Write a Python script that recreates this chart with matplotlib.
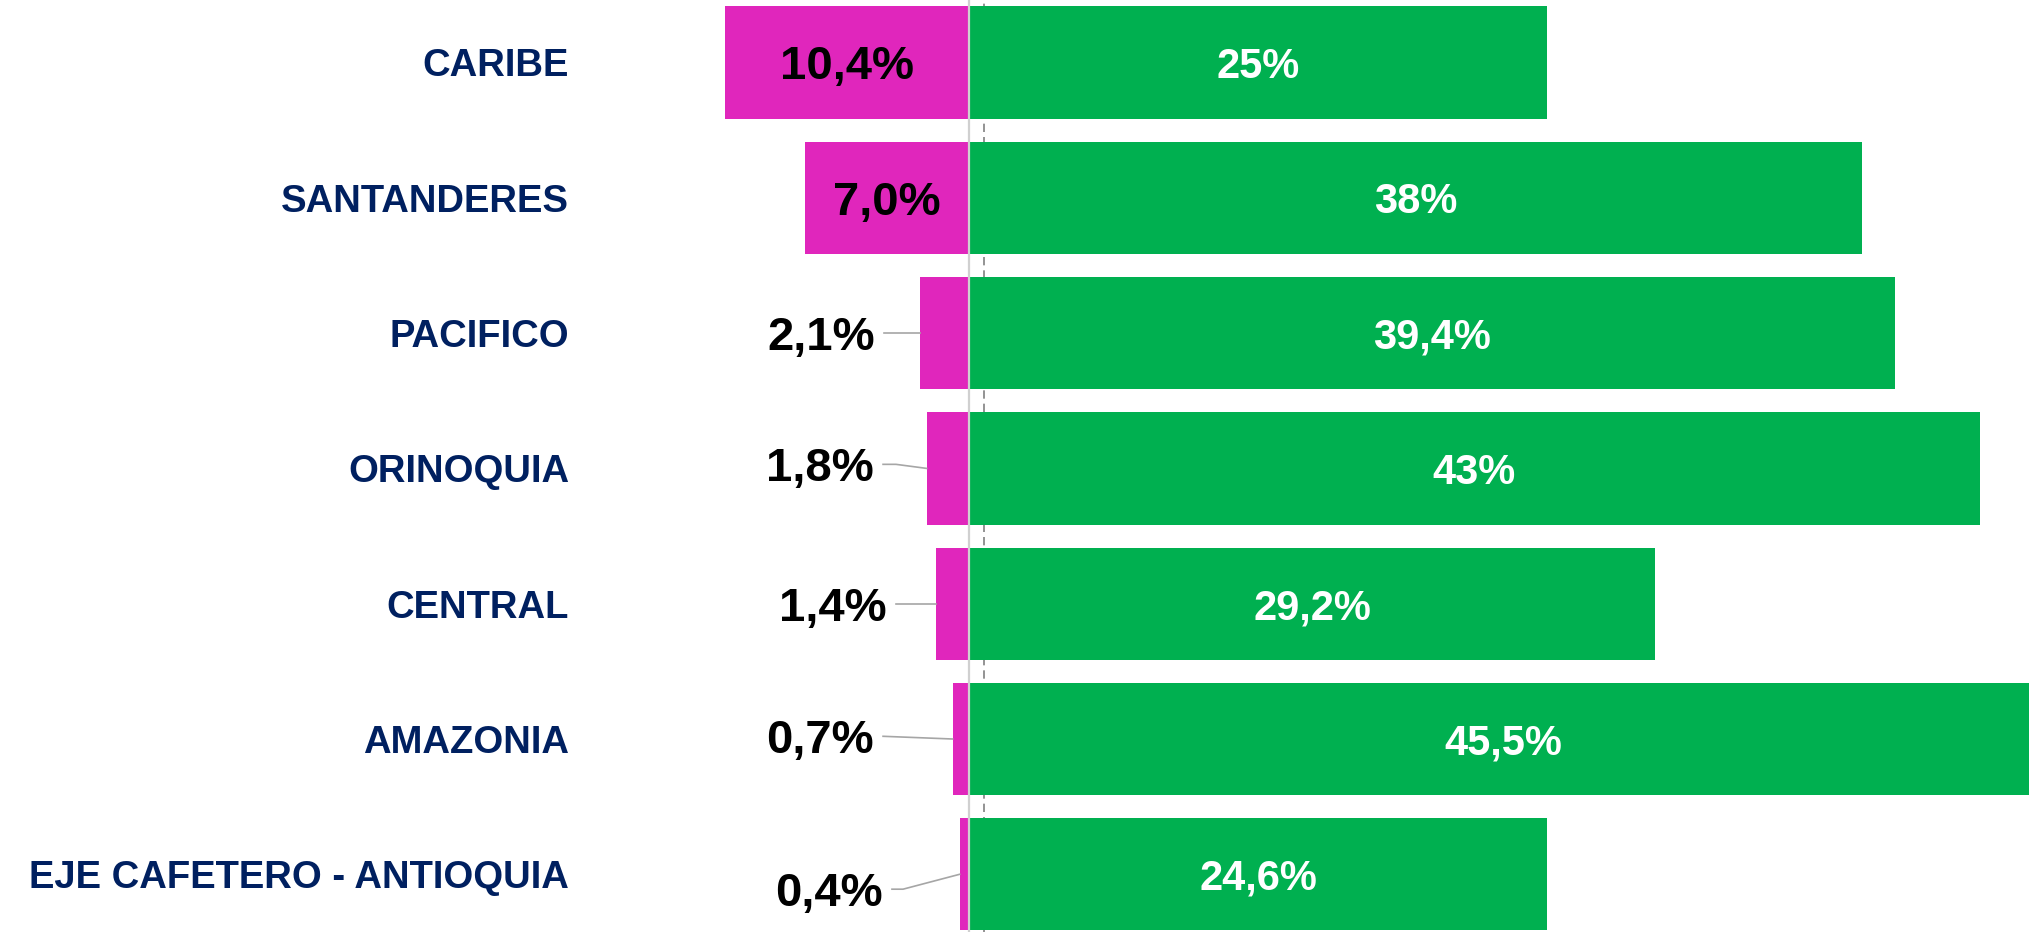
import matplotlib.pyplot as plt
import numpy as np

# Data
regions = ['CARIBE', 'SANTANDERES', 'PACIFICO', 'ORINOQUIA', 'CENTRAL',
           'AMAZONIA', 'EJE CAFETERO - ANTIOQUIA']
pink_values = [10.4, 7.0, 2.1, 1.8, 1.4, 0.7, 0.4]
green_values = [24.6, 38.0, 39.4, 43.0, 29.2, 45.5, 24.6]
pink_labels = ['10,4%', '7,0%', '2,1%', '1,8%', '1,4%', '0,7%', '0,4%']
green_labels = ['25%', '38%', '39,4%', '43%', '29,2%', '45,5%', '24,6%']

pink = '#E026BC'
green = '#00B050'
navy = '#002060'

plt.rcParams['font.family'] = ['Liberation Sans', 'DejaVu Sans']

W, H, DPI = 2029, 932, 100
fig = plt.figure(figsize=(W / DPI, H / DPI), dpi=DPI)
ax = fig.add_axes([0, 0, 1, 1])

# pixel scale of the reference: 23.5 px per percent, zero at x=969
px_x = 23.5
px_y = 135.3
x0 = 969
ax.set_xlim(-x0 / px_x, (W - x0) / px_x)
ax.set_ylim((H - 62.5) / px_y, -62.5 / px_y)
ax.axis('off')

y = np.arange(len(regions))
ax.axvline(0.64, color='#808080', lw=1.2, ls=(0, (5, 3)), zorder=0)
ax.barh(y, [-v for v in pink_values], height=0.83, color=pink, zorder=2)
ax.barh(y, green_values, height=0.83, color=green, zorder=2)
ax.axvline(0, color='#D0D0D0', lw=1.6, zorder=3)

# region names
for i, name in enumerate(regions):
    ax.text(-(969 - 569) / px_x, i, name, ha='right', va='center_baseline',
            fontsize=27.5, fontweight='bold', color=navy)

# green labels
for i, (v, lab) in enumerate(zip(green_values, green_labels)):
    right = min(v, (W - x0) / px_x + 0.4)
    ax.text(right / 2, i, lab, ha='center', va='center_baseline',
            fontsize=30, fontweight='bold', color='white', zorder=4)

# pink labels: inside the big bars, outside with a leader line for the small ones
outside = {2: (-4.0, 0.0, 0.0), 3: (-4.04, -0.03, 0.55), 4: (-3.49, 0.0, 0.0),
           5: (-4.04, -0.02, 0.0), 6: (-3.66, 0.11, 0.47)}
for i, (v, lab) in enumerate(zip(pink_values, pink_labels)):
    if i not in outside:
        ax.text(-v / 2, i, lab, ha='center', va='center_baseline',
                fontsize=34, fontweight='bold', color='black', zorder=4)
        continue
    lx, dy, knee = outside[i]
    ax.text(lx, i + dy, lab, ha='right', va='center_baseline',
            fontsize=34, fontweight='bold', color='black', zorder=4)
    sx = lx + 9 / px_x
    xs = [sx, sx + knee, -v]
    ys = [i + dy, i + dy, i]
    ax.plot(xs, ys, color='#A6A6A6', lw=1.2, zorder=4)

fig.savefig('out.png', dpi=DPI)
